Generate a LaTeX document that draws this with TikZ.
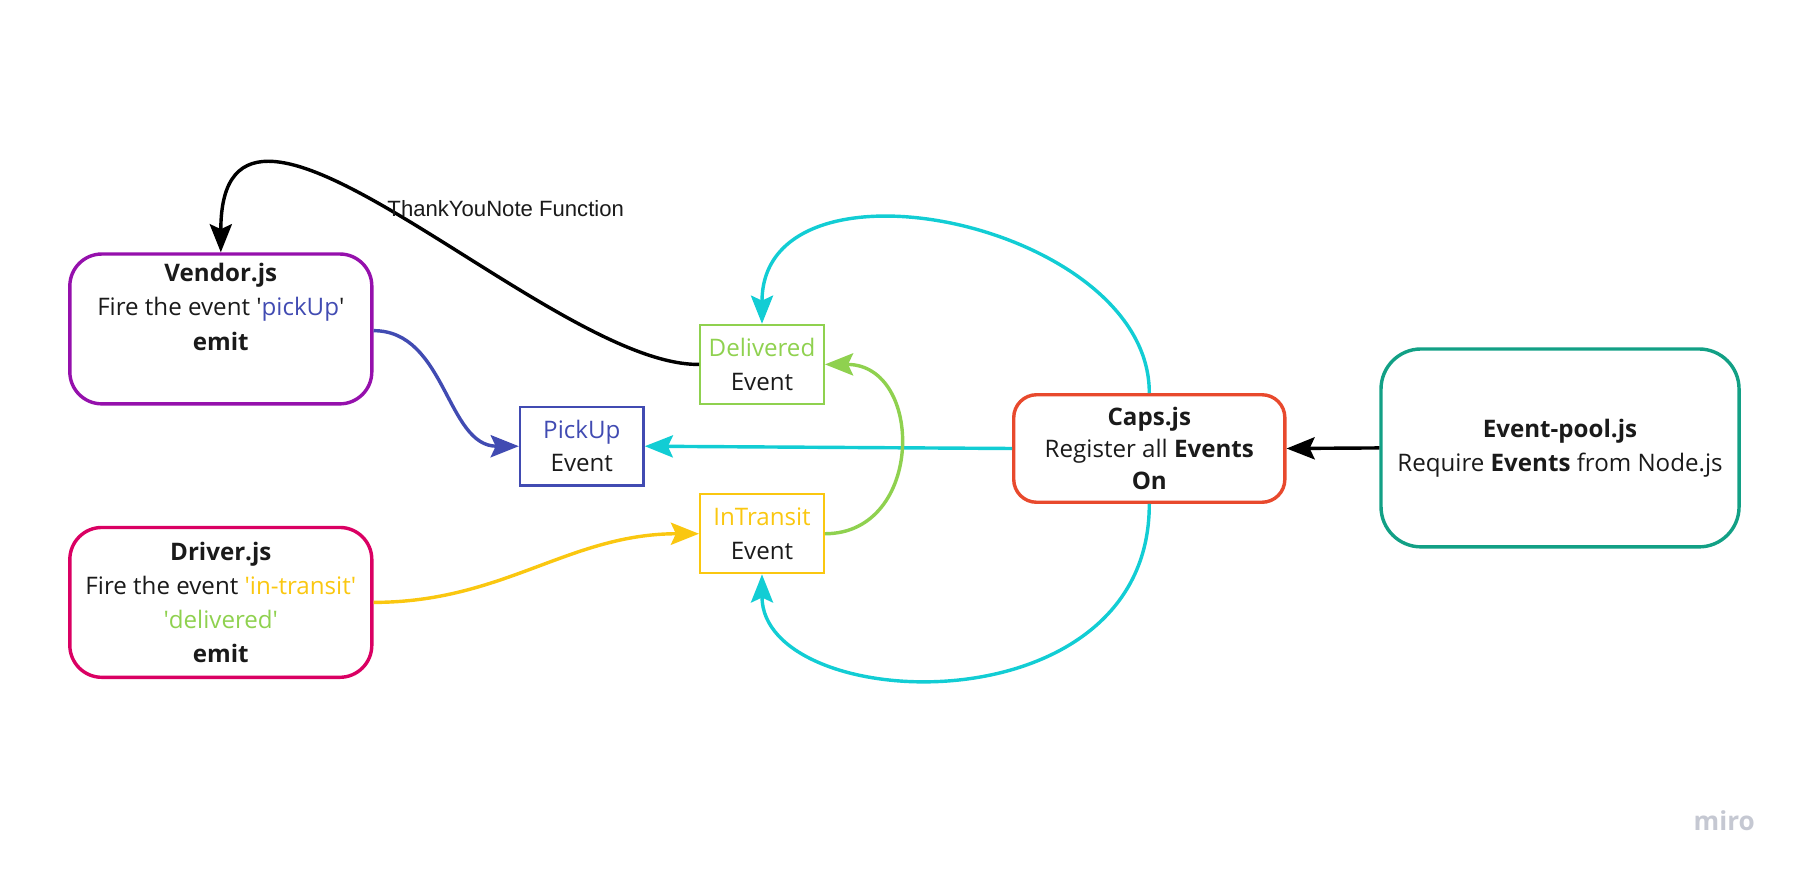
\documentclass[tikz,border=0pt]{standalone}
\usepackage{fontspec}
\setmainfont{Open Sans}
\newfontfamily\labelfont{Liberation Sans}
\usetikzlibrary{arrows.meta}

\definecolor{vendorpurple}{HTML}{9510AC}
\definecolor{drivermagenta}{HTML}{DA0063}
\definecolor{pickblue}{HTML}{414BB2}
\definecolor{delgreen}{HTML}{8FD14F}
\definecolor{transyellow}{HTML}{FAC710}
\definecolor{capsred}{HTML}{E8492D}
\definecolor{poolteal}{HTML}{12A085}
\definecolor{oncyan}{HTML}{12CDD4}
\definecolor{inkdark}{HTML}{1A1A1A}
\definecolor{mirogray}{HTML}{C5C8D2}
\newcommand{\sq}{\textquotesingle}

\begin{document}
\begin{tikzpicture}[x=0.02cm, y=-0.02cm,
    every node/.style={text=inkdark, align=center, inner sep=0pt},
    jsbox/.style={line width=1.7pt, rounded corners=0.56cm,
      font=\fontsize{12}{17}\selectfont},
    eventbox/.style={line width=1.2pt, minimum width=2.16cm,
      minimum height=1.38cm, font=\fontsize{12}{16.5}\selectfont},
    link/.style={line width=1.7pt, -{Stealth[length=14pt, width=11pt, inset=2.5pt]}}]
    \useasboundingbox (0,0) rectangle (1568,760);
    % js files
    \node [jsbox, draw=vendorpurple, minimum width=5.28cm, minimum height=2.62cm] (vendor) at (193,287.5)
      {\textbf{Vendor.js}\\Fire the event \sq\textcolor{pickblue}{pickUp}\sq\\\textbf{emit}\\\strut};
    \node [jsbox, draw=drivermagenta, minimum width=5.28cm, minimum height=2.62cm] (driver) at (193,526.5)
      {\textbf{Driver.js}\\Fire the event \textcolor{transyellow}{\sq in-transit\sq}\\
       \textcolor{delgreen}{\sq delivered\sq}\\\textbf{emit}};
    \node [jsbox, draw=capsred, rounded corners=0.4cm, minimum width=4.74cm, minimum height=1.88cm,
      font=\fontsize{12}{16}\selectfont] (caps) at (1004.5,392)
      {\textbf{Caps.js}\\Register all \textbf{Events}\\\textbf{On}};
    \node [jsbox, draw=poolteal, rounded corners=0.7cm, minimum width=6.26cm, minimum height=3.46cm] (pool) at (1363.5,391.5)
      {\textbf{Event-pool.js}\\Require \textbf{Events} from Node.js};
    % events
    \node [eventbox, draw=delgreen] (delivered) at (666,318.5)
      {\textcolor{delgreen}{Delivered}\\Event};
    \node [eventbox, draw=pickblue] (pickup) at (508.5,390)
      {\textcolor{pickblue}{PickUp}\\Event};
    \node [eventbox, draw=transyellow] (intransit) at (666,466.5)
      {\textcolor{transyellow}{InTransit}\\Event};
    % connectors
    \draw [link, pickblue] (vendor.east |- 0,289) to [out=0, in=180] (pickup.west);
    \draw [link, transyellow] (driver.east) to [out=0, in=180] (intransit.west);
    \draw [link, oncyan] (caps.west) -- (pickup.east);
    \draw [link, oncyan] (caps.north) .. controls (1005,195) and (666,125) .. (delivered.north);
    \draw [link, oncyan] (caps.south) .. controls (1005,640) and (666,625) .. (intransit.south);
    \draw [link, delgreen] (intransit.east) .. controls +(87,0) and +(87,0) .. (delivered.east);
    \draw [link, black] (delivered.west) .. controls (480,320) and (193,15) .. (vendor.north);
    \draw [link, black] (pool.west) -- (caps.east);
    \node [font=\labelfont\fontsize{11}{13}\selectfont] (thanks) at (442,182) {ThankYouNote Function};
    \node [text=mirogray, font=\bfseries\fontsize{13}{15}\selectfont] (miro) at (1507,717) {miro};
\end{tikzpicture}
\end{document}
